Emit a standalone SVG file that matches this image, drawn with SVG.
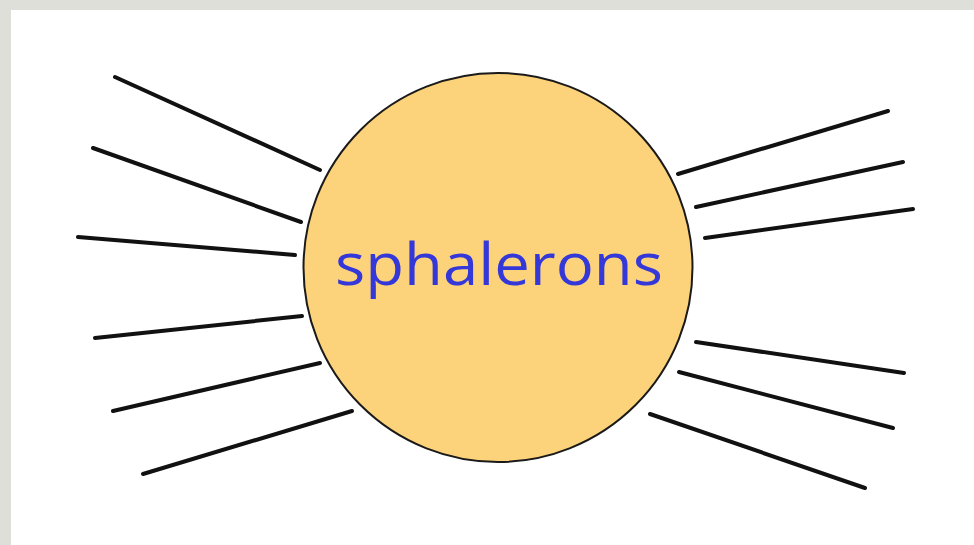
<svg xmlns="http://www.w3.org/2000/svg" width="974" height="545" viewBox="0 0 974 545">
<style>
.ray{stroke:#111;stroke-width:4;stroke-linecap:round;fill:none}
.lbl{font-family:"Comic Sans MS","Open Sans","DejaVu Sans",sans-serif;font-size:58px;fill:#3438d8}
</style>
<rect x="0" y="0" width="974" height="545" fill="#dfdfda"/>
<rect x="11" y="10" width="963" height="535" fill="#ffffff"/>
<g id="connectors">
<line class="ray" x1="115" y1="77" x2="320" y2="170"/>
<line class="ray" x1="93" y1="148" x2="301" y2="222"/>
<line class="ray" x1="78" y1="237" x2="295" y2="255"/>
<line class="ray" x1="95" y1="338" x2="302" y2="316"/>
<line class="ray" x1="113" y1="411" x2="320" y2="363"/>
<line class="ray" x1="143" y1="474" x2="352" y2="411"/>
<line class="ray" x1="678" y1="174" x2="888" y2="111"/>
<line class="ray" x1="696" y1="207" x2="903" y2="162"/>
<line class="ray" x1="705" y1="238" x2="913" y2="209"/>
<line class="ray" x1="696" y1="342" x2="904" y2="373"/>
<line class="ray" x1="679" y1="372" x2="893" y2="428"/>
<line class="ray" x1="650" y1="414" x2="865" y2="488"/>
</g>
<g id="sphalerons">
<circle cx="498" cy="267.5" r="194.5" fill="#fcd27b" stroke="#1a1a1a" stroke-width="2"/>
<text class="lbl" x="335" y="285" textLength="328" lengthAdjust="spacingAndGlyphs">sphalerons</text>
</g>
</svg>
